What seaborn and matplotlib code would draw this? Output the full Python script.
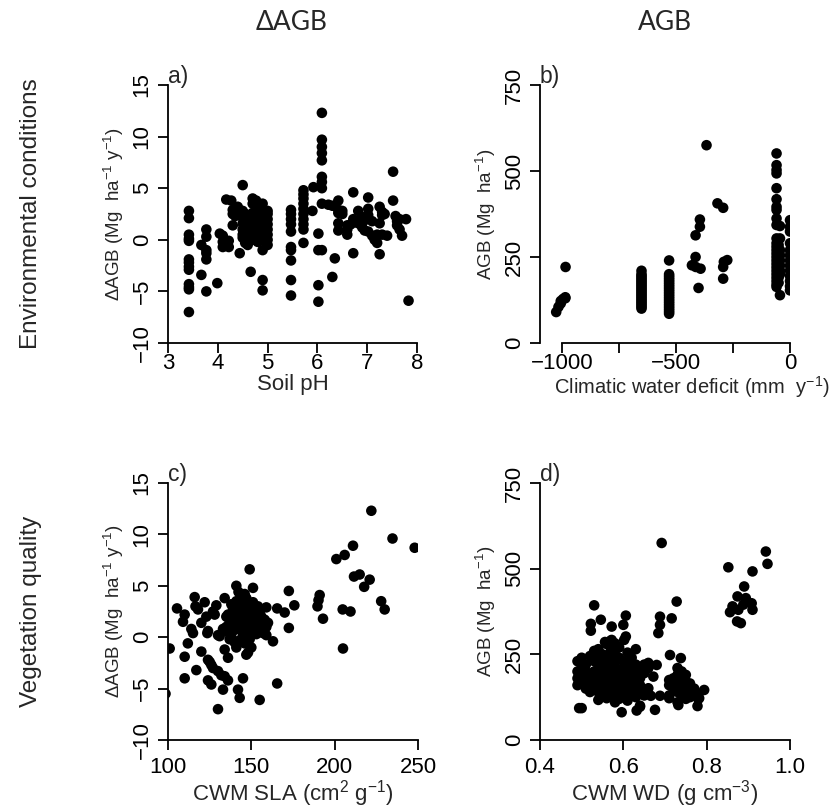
import matplotlib
matplotlib.use("Agg")
import matplotlib.pyplot as plt
import matplotlib.transforms as mtransforms
import seaborn as sns
import pandas as pd

# ---------------- data ----------------
# Panel a: soil pH vs dAGB
ph_a = [3.42, 3.42, 3.42, 3.42, 3.42, 3.42, 3.42, 3.42, 3.42, 3.42, 3.42, 3.42, 3.42,
        3.67, 3.67,
        3.77, 3.77, 3.77, 3.77, 3.77, 3.77,
        3.99, 4.04, 4.10, 4.10, 4.10, 4.17, 4.22, 4.22, 4.27, 4.30, 4.30, 4.30, 4.35,
        4.40, 4.40, 4.40, 4.44,
        4.50, 4.50, 4.50, 4.50, 4.50, 4.50, 4.50,
        4.55, 4.55, 4.55, 4.55,
        4.60, 4.60, 4.60, 4.60, 4.60,
        4.66,
        4.70, 4.70, 4.70, 4.70, 4.70, 4.70, 4.70,
        4.77, 4.77, 4.77, 4.77,
        4.80, 4.80, 4.80, 4.80, 4.80,
        4.85, 4.85, 4.85, 4.85,
        4.90, 4.90, 4.90, 4.90, 4.90, 4.90, 4.90, 4.90, 4.90, 4.90,
        4.95, 4.95, 4.95, 4.95,
        5.00, 5.00, 5.00, 5.00, 5.00, 5.00, 5.00, 5.00,
        5.47, 5.47, 5.47, 5.47, 5.47, 5.47, 5.47, 5.47, 5.47, 5.47,
        5.72, 5.72, 5.72, 5.72, 5.72, 5.72, 5.72, 5.72, 5.72, 5.72,
        5.90, 5.92,
        6.02, 6.02, 6.02, 6.02,
        6.09, 6.09, 6.09, 6.09, 6.09, 6.09, 6.09, 6.09, 6.09, 6.09,
        6.22, 6.30, 6.30, 6.35,
        6.42, 6.42, 6.42, 6.42, 6.42,
        6.50, 6.50, 6.60, 6.60, 6.60, 6.67, 6.72, 6.72, 6.72,
        6.82, 6.82, 6.90, 6.90, 6.95, 6.95,
        7.02, 7.02, 7.02, 7.02, 7.10, 7.10, 7.15, 7.20, 7.20,
        7.25, 7.25, 7.25, 7.30, 7.30, 7.30, 7.35, 7.40,
        7.52, 7.52, 7.57, 7.60, 7.60, 7.65, 7.65, 7.70, 7.78, 7.83]
dagb_a = [2.8, 2.1, 0.5, 0.1, -0.1, -1.9, -2.2, -2.6, -2.9, -4.3, -4.6, -4.8, -7.0,
          -0.5, -3.4,
          1.0, 0.3, -1.0, -1.3, -1.9, -5.0,
          -4.2, 0.6, -0.2, -0.7, 0.4, 3.9, -0.1, -0.7, 3.8, 2.5, 1.4, 2.9, 2.3,
          3.2, 2.8, 3.0, -1.3,
          5.3, 1.6, 1.0, 0.5, 0.2, 2.8, 2.2,
          1.3, 0.7, -0.3, 2.5,
          2.4, 1.5, 0.3, -0.5, 0.9,
          -3.1,
          4.0, 3.5, 1.0, 0.5, 0.0, 1.8, 2.6,
          3.8, 2.0, 1.2, 0.4,
          3.0, 2.5, 1.6, -0.2, 0.8,
          3.2, 2.2, 1.4, 0.6,
          3.5, 2.8, 2.0, 1.5, 1.0, 0.5, 0.0, -1.0, -3.9, -4.9,
          2.6, 1.8, 1.2, 0.3,
          2.8, 2.5, 2.0, 1.5, 1.0, 0.5, 0.0, -0.5,
          2.9, 2.5, 2.0, 1.5, 0.8, -0.7, -1.0, -2.0, -3.9, -5.4,
          4.8, 4.4, 4.0, 3.5, 3.0, 2.5, 2.0, 1.5, 1.0, -0.3,
          2.8, 5.1,
          0.6, -1.0, -4.4, -6.0,
          12.3, 9.7, 9.0, 8.4, 7.7, 6.1, 5.6, 5.0, 3.5, -1.0,
          3.4, 3.3, -3.6, -1.8,
          3.8, 2.9, 2.6, 1.6, 0.9,
          2.8, 2.5, 1.4, 1.0, 0.5, 1.5, 4.6, -1.3, 2.0,
          2.8, 1.6, 2.2, 1.2, 1.9, 0.9,
          4.1, 3.0, 2.4, 0.8, 1.8, 0.4, 0.0, -0.3, 0.5,
          3.2, 1.6, -1.4, 2.7, 2.4, 0.5, 2.5, 0.4,
          6.6, 3.8, 2.3, 1.8, 1.4, 2.0, 1.0, 0.4, 2.0, -5.9]

# Panel b: climatic water deficit vs AGB
cwd_b = [-1025, -1015, -1005, -1005, -995, -985, -985, -984,
         -651, -651, -651, -651, -651, -651, -651, -651, -651, -651, -651,
         -651, -651, -651, -651, -651, -651, -651, -651, -651, -651, -651,
         -530, -530, -530, -530, -530, -530, -530, -530, -530, -530, -530, -530,
         -530, -530, -530, -530, -530, -530, -530, -530, -530, -530, -530, -530, -530,
         -430, -414, -414, -413, -401, -395, -395, -392,
         -366, -318, -293, -293, -293, -290, -275,
         -59, -59, -59, -59, -59, -59, -59, -59, -59, -59, -59, -59, -59,
         -59, -59, -59, -59, -59, -59, -59, -59, -59, -59, -59, -59,
         -50, -50, -50, -50, -50, -50, -50, -50,
         -44, -44, -44, -44, -44, -44, -44, -44, -44,
         0, 0, 0, 0, 0, 0, 0, 0, 0, 0, 0, 0, 0]
agb_b = [90, 105, 115, 122, 128, 130, 133, 221,
         100, 105, 110, 115, 120, 125, 130, 135, 140, 145, 150,
         155, 160, 165, 170, 175, 180, 185, 190, 195, 200, 210,
         85, 90, 95, 100, 105, 110, 115, 120, 125, 130, 135, 140,
         145, 150, 155, 160, 165, 170, 175, 180, 185, 190, 195, 200, 240,
         226, 250, 313, 221, 160, 338, 359, 216,
         575, 406, 393, 187, 221, 236, 241,
         551, 517, 503, 493, 450, 418, 396, 387, 362, 343, 304, 290, 280,
         270, 260, 250, 240, 230, 220, 210, 200, 190, 180, 170, 163,
         285, 265, 250, 235, 220, 205, 190, 175,
         340, 304, 270, 255, 240, 225, 210, 200, 139,
         357, 338, 324, 290, 270, 255, 240, 225, 210, 195, 180, 165, 153]

# Panel c: CWM SLA vs dAGB
sla_c = [98.5, 101, 105.4, 109, 110, 110, 110, 111.9, 114, 115, 116, 116.5, 118, 117,
         120, 120, 122, 123, 124, 123.6, 124, 125, 126, 127, 124, 126, 127, 128, 129,
         130, 131, 130, 132, 134, 136, 130, 133, 134, 134, 136, 142, 143, 145, 147,
         149, 151, 155, 159, 159, 163, 165.5, 165.5, 170, 172.5, 172.5, 175.8,
         189.7, 190.3, 191, 193, 201, 206, 211, 204.8, 209.5, 205, 211.6, 215, 217.7,
         221, 222, 227.9, 230, 234.7, 248, 141, 142.3,
         135, 136, 137, 138, 138, 139, 140, 140, 141, 141, 142, 142, 143, 143, 144,
         144, 145, 145, 146, 146, 147, 147, 148, 148, 149, 149, 150, 150, 151, 151,
         152, 152, 153, 153, 154, 155, 155, 156, 157, 158, 160, 136, 137, 139, 141,
         143, 145, 146, 148, 149, 150, 144, 140, 152, 146, 133, 135, 138, 154, 157, 159]
dagb_c = [-5.5, -1.1, 2.8, 1.5, 2.2, -1.9, -4.0, -0.6, 0.8, 0.4, 3.9, 3.0, 2.7, -3.2,
          1.4, -1.4, 3.4, 2.0, 0.6, 0.4, -2.2, -2.4, -2.7, -3.0, -4.2, -4.6, 2.5, 2.2, 3.1,
          0.2, 0.1, -3.3, -3.7, -3.8, -4.2, -7.0, -5.1, 3.8, -1.2, -2.0, -5.1, -5.9, -4.0, -1.7,
          6.6, 4.8, -6.1, 2.9, 0.2, -0.4, -4.5, 2.8, 2.4, 4.5, 0.9, 3.1,
          3.0, 3.6, 4.1, 1.8, 7.6, 8.0, 8.9, 2.7, 2.5, -1.1, 5.9, 6.1, 4.9,
          5.6, 12.3, 3.5, 2.7, 9.6, 8.7, 5.0, 4.4,
          1.0, 0.5, 1.5, 2.0, 0.0, 2.8, 1.2, -0.5, 2.2, 3.5, 0.8, 1.8, 2.5, -0.3, 3.2,
          1.0, 2.0, 0.2, 2.8, 1.5, 3.8, 0.5, 2.2, 1.2, 3.0, -0.2, 1.8, 2.6, 0.8, 3.4,
          2.0, 1.2, 2.8, 0.3, 1.6, 2.4, 1.0, 2.0, 1.4, 1.7, 1.4, 2.2, -0.2, 0.6, -1.0,
          1.5, 3.0, -0.6, -1.5, 0.6, -1.0, 4.0, 2.8, 3.0, 4.2, 0.8, 2.0, 3.2, 3.0, 0.4, 1.0]

# Panel d: CWM WD vs AGB
wd_d = [0.692, 0.728, 0.688, 0.688, 0.684, 0.716, 0.712, 0.738, 0.672, 0.680, 0.660,
        0.676, 0.666, 0.688, 0.710, 0.732, 0.778, 0.794, 0.782,
        0.852, 0.942, 0.946, 0.910, 0.890, 0.874, 0.894, 0.856, 0.862, 0.876, 0.888,
        0.908, 0.910, 0.873, 0.882,
        0.530, 0.522, 0.522, 0.546, 0.572, 0.606, 0.600, 0.606, 0.602, 0.556, 0.572, 0.580,
        0.494, 0.500, 0.596, 0.632, 0.640, 0.540, 0.560,
        0.49, 0.49, 0.49, 0.49, 0.50, 0.50, 0.50, 0.50, 0.51, 0.51, 0.51,
        0.52, 0.52, 0.52, 0.52, 0.53, 0.53, 0.53, 0.53, 0.53,
        0.54, 0.54, 0.54, 0.54, 0.54, 0.55, 0.55, 0.55, 0.55, 0.55, 0.55,
        0.56, 0.56, 0.56, 0.56, 0.56, 0.56, 0.56, 0.57, 0.57, 0.57, 0.57, 0.57, 0.57, 0.57,
        0.58, 0.58, 0.58, 0.58, 0.58, 0.58, 0.58, 0.59, 0.59, 0.59, 0.59, 0.59, 0.59, 0.59,
        0.60, 0.60, 0.60, 0.60, 0.60, 0.60, 0.61, 0.61, 0.61, 0.61, 0.61, 0.61, 0.61,
        0.62, 0.62, 0.62, 0.62, 0.62, 0.62, 0.63, 0.63, 0.63, 0.63, 0.63, 0.63,
        0.64, 0.64, 0.64, 0.64, 0.64, 0.65, 0.65, 0.65, 0.66, 0.66,
        0.71, 0.71, 0.71, 0.72, 0.72, 0.72, 0.73, 0.73, 0.73, 0.73,
        0.74, 0.74, 0.74, 0.74, 0.74, 0.75, 0.75, 0.75, 0.75, 0.76, 0.76, 0.76,
        0.77, 0.77, 0.78, 0.78]
agb_d = [575, 404, 360, 336, 312, 355, 248, 239, 185, 219, 151,
         88, 129, 129, 122, 102, 99, 146, 122,
         504, 550, 514, 492, 448, 419, 414, 373, 390, 380, 395,
         399, 380, 346, 341,
         393, 339, 319, 351, 331, 363, 336, 302, 292, 286, 292, 282,
         93, 93, 81, 86, 97, 117, 122,
         180, 160, 200, 230, 240, 210, 170, 190, 150, 220, 200,
         245, 180, 160, 140, 230, 200, 170, 260, 150,
         265, 190, 210, 140, 240, 250, 220, 180, 160, 130, 200,
         280, 240, 190, 170, 150, 210, 125, 260, 230, 200, 180, 160, 140, 290,
         250, 215, 195, 175, 155, 130, 110, 240, 200, 185, 165, 145, 120, 270,
         230, 210, 190, 170, 150, 130, 255, 220, 195, 175, 155, 135, 115,
         240, 200, 180, 160, 140, 215, 265, 220, 190, 170, 145, 125,
         210, 180, 160, 140, 100, 220, 195, 130, 210, 225,
         175, 160, 130, 170, 150, 180, 210, 190, 140, 110,
         180, 160, 130, 145, 200, 170, 150, 120, 190, 165, 140, 125,
         150, 130, 135, 120]

col_titles = ["\u0394AGB", "AGB"]
row_titles = ["Environmental conditions", "Vegetation quality"]
panel_tags = ["a)", "b)", "c)", "d)"]

# ---------------- style ----------------
sns.set_style("ticks")
plt.rcParams["font.family"] = ["Liberation Sans", "DejaVu Sans"]
plt.rcParams["mathtext.fontset"] = "custom"
plt.rcParams["mathtext.rm"] = "Liberation Sans"
plt.rcParams["mathtext.it"] = "Liberation Sans:italic"
plt.rcParams["mathtext.bf"] = "Liberation Sans:bold"

W, H = 832, 810
fig = plt.figure(figsize=(W / 100, H / 100), dpi=100)


def add_ax(l, r, t, b):
    return fig.add_axes([l / W, 1 - b / H, (r - l) / W, (b - t) / H])


TICK_FS = 16
YLAB_FS = 13.5
XLAB_FS = 16


def style(ax, xlim, ylim, xt, xtl, yt, ytl, tag, xpad):
    ax.set_xlim(*xlim)
    ax.set_ylim(*ylim)
    for s in ["top", "right"]:
        ax.spines[s].set_visible(False)
    ax.spines["left"].set_bounds(yt[0], yt[-1])
    ax.spines["bottom"].set_bounds(xt[0], xt[-1])
    for s in ["left", "bottom"]:
        ax.spines[s].set_linewidth(1.3)
        ax.spines[s].set_color("black")
    ax.set_xticks(xt, xtl)
    ax.set_yticks(yt, ytl)
    ax.tick_params(axis="both", length=7, width=1.3, color="black",
                   labelsize=TICK_FS, labelcolor="black")
    ax.tick_params(axis="x", pad=xpad)
    ax.tick_params(axis="y", pad=4)
    for lab in ax.get_yticklabels():
        lab.set_rotation(90)
        lab.set_va("center")
    tr = mtransforms.offset_copy(ax.transAxes, fig=fig, x=0, y=-3, units="dots")
    ax.text(0.0, 1.0, tag, transform=tr, ha="left", va="bottom", fontsize=16.5)
    ax.set_facecolor("white")


def dots(ax, x, y):
    df = pd.DataFrame({"x": x, "y": y})
    sns.scatterplot(data=df, x="x", y="y", ax=ax, color="black", s=58,
                    edgecolor="none", linewidth=0, legend=False)


dlab = "\u0394AGB (Mg  ha$^{-1}$ y$^{-1}$)"
alab = "AGB (Mg  ha$^{-1}$)"
m = "\u2212"

axa = add_ax(168, 417, 85, 343)
dots(axa, ph_a, dagb_a)
style(axa, (3, 8), (-10, 15), [3, 4, 5, 6, 7, 8], ["3", "4", "5", "6", "7", "8"],
      [-10, -5, 0, 5, 10, 15], [m + "10", m + "5", "0", "5", "10", "15"],
      panel_tags[0], 0)
axa.set_xlabel("Soil pH", fontsize=XLAB_FS, labelpad=0)
axa.set_ylabel(dlab, fontsize=YLAB_FS, labelpad=4)

axb = add_ax(540, 790, 85, 343)
dots(axb, cwd_b, agb_b)
style(axb, (-1096, 0), (0, 750), [-1000, -750, -500, -250, 0],
      [m + "1000", "", m + "500", "", "0"],
      [0, 250, 500, 750], ["0", "250", "500", "750"],
      panel_tags[1], 0)
axb.set_xlabel("")
axb.set_ylabel(alab, fontsize=YLAB_FS, labelpad=4)
fig.text(692 / W, 1 - 387 / H, "Climatic water deficit (mm  y$^{-1}$)",
         ha="center", va="center", fontsize=14.5)

axc = add_ax(168, 418, 483, 740)
dots(axc, sla_c, dagb_c)
style(axc, (100, 250), (-10, 15), [100, 150, 200, 250], ["100", "150", "200", "250"],
      [-10, -5, 0, 5, 10, 15], [m + "10", m + "5", "0", "5", "10", "15"],
      panel_tags[2], 5)
axc.set_xlabel("CWM SLA (cm$^{2}$ g$^{-1}$)", fontsize=XLAB_FS, labelpad=0)
axc.set_ylabel(dlab, fontsize=YLAB_FS, labelpad=4)

axd = add_ax(540, 790, 483, 740)
dots(axd, wd_d, agb_d)
style(axd, (0.4, 1.0), (0, 750), [0.4, 0.6, 0.8, 1.0], ["0.4", "0.6", "0.8", "1.0"],
      [0, 250, 500, 750], ["0", "250", "500", "750"],
      panel_tags[3], 5)
axd.set_xlabel("CWM WD (g cm$^{-3}$)", fontsize=XLAB_FS, labelpad=0)
axd.set_ylabel(alab, fontsize=YLAB_FS, labelpad=4)

fig.text(292 / W, 1 - 22 / H, col_titles[0], ha="center", va="center",
         fontsize=19, family=["Lato", "DejaVu Sans"])
fig.text(665 / W, 1 - 22 / H, col_titles[1], ha="center", va="center",
         fontsize=19, family=["Lato", "DejaVu Sans"])
fig.text(31 / W, 1 - 214 / H, row_titles[0], ha="center", va="center",
         rotation=90, fontsize=17.5)
fig.text(31 / W, 1 - 611 / H, row_titles[1], ha="center", va="center",
         rotation=90, fontsize=17.5)

fig.savefig("out.png", dpi=100, facecolor="white")
